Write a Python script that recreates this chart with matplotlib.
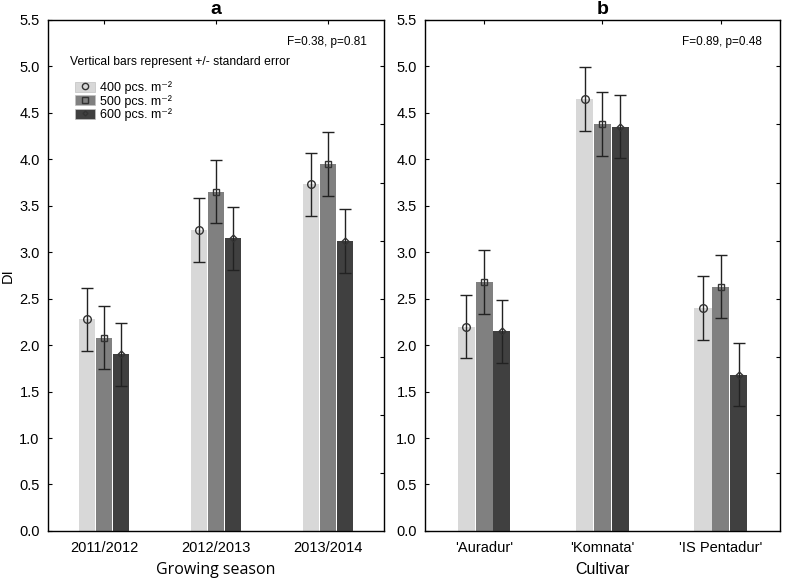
import numpy as np
import matplotlib.pyplot as plt
from matplotlib.lines import Line2D
from matplotlib.patches import Patch
from matplotlib.legend_handler import HandlerTuple

plt.rcParams['font.family'] = ['Liberation Sans', 'DejaVu Sans']

# dados
seasons = ['2011/2012', '2012/2013', '2013/2014']
season_400 = [2.28, 3.24, 3.73]
season_500 = [2.08, 3.65, 3.95]
season_600 = [1.90, 3.15, 3.12]
season_se = [[0.34, 0.34, 0.34], [0.34, 0.34, 0.34], [0.34, 0.34, 0.34]]

cultivars = ["'Auradur'", "'Komnata'", "'IS Pentadur'"]
cult_400 = [2.20, 4.65, 2.40]
cult_500 = [2.68, 4.38, 2.63]
cult_600 = [2.15, 4.35, 1.68]
cult_se = [[0.34, 0.34, 0.34], [0.34, 0.34, 0.34], [0.34, 0.34, 0.34]]

densities = ['400 pcs. m⁻²', '500 pcs. m⁻²', '600 pcs. m⁻²']
colors = ['#d8d8d8', '#808080', '#404040']
markers = ['o', 's', 'D']
msizes = [5.5, 5, 3.5]

fig = plt.figure(figsize=(7.87, 5.79), dpi=100)
ax1 = fig.add_axes([0.061, 0.083, 0.427, 0.8825])
ax2 = fig.add_axes([0.540, 0.083, 0.451, 0.8825])


def draw_panel(ax, cats, series, ses, title, xlabel, ftext, xlabel_font):
    x = np.arange(len(cats))
    w = 0.145
    offs = [-0.15, 0.0, 0.15]
    for vals, se, c, m, ms, off in zip(series, ses, colors, markers, msizes, offs):
        ax.bar(x + off, vals, width=w, color=c, edgecolor='none', zorder=1)
        ax.errorbar(x + off, vals, yerr=se, fmt=m, ms=ms, mfc='none', mec='#333333',
                    mew=1.0, ecolor='#222222', elinewidth=1.0, capsize=4.5, capthick=1.0, zorder=2)
    ax.set_xlim(-0.5, len(cats) - 0.5)
    ax.set_ylim(0, 5.5)
    ax.set_yticks(np.arange(0, 5.51, 0.5))
    ax.set_yticklabels([f'{v:.1f}' for v in np.arange(0, 5.51, 0.5)])
    ax.set_xticks(x)
    ax.set_xticklabels(cats)
    ax.tick_params(axis='x', direction='in', length=3, labelsize=10.5, pad=7,
                   top=True, bottom=False, width=0.8)
    ax.tick_params(axis='y', direction='in', length=3, labelsize=10.5, pad=6, width=0.8)
    for s in ax.spines.values():
        s.set_color('#333333')
        s.set_linewidth(1.0)
    ax.set_title(title, fontsize=14, fontweight='bold', pad=4)
    ax.set_xlabel(xlabel, fontsize=11.5, labelpad=5, family=xlabel_font)
    ax.text(0.95, 0.957, ftext, transform=ax.transAxes, ha='right', va='center', fontsize=8.5)
    # eixo secundario com ticks
    tw = ax.twinx()
    tw.set_ylim(0, 5.5)
    tw.set_yticks(np.arange(0.625, 5.1, 0.625))
    tw.tick_params(direction='in', length=3, labelright=False, width=0.8)


draw_panel(ax1, seasons, [season_400, season_500, season_600], season_se,
           'a', 'Growing season', 'F=0.38, p=0.81', ['Open Sans', 'DejaVu Sans'])
draw_panel(ax2, cultivars, [cult_400, cult_500, cult_600], cult_se,
           'b', 'Cultivar', 'F=0.89, p=0.48', ['Liberation Sans', 'DejaVu Sans'])

ax1.set_ylabel('DI', fontsize=10.5)
ax1.yaxis.set_label_coords(-0.1, 0.5)
ax1.text(0.065, 0.918, 'Vertical bars represent +/- standard error', transform=ax1.transAxes,
         ha='left', va='center', fontsize=8.7)

handles = []
for c, m, ms in zip(colors, markers, msizes):
    handles.append((Patch(facecolor=c, edgecolor='#c0c0c0', linewidth=0.5),
                    Line2D([], [], marker=m, ms=ms - 1, mfc='none', mec='#333333', ls='none')))
ax1.legend(handles, densities, handler_map={tuple: HandlerTuple(ndivide=1, pad=0)},
           loc='upper left', bbox_to_anchor=(0.08, 0.88), frameon=False,
           handlelength=1.6, handleheight=0.9, handletextpad=0.4, labelspacing=0.05,
           borderaxespad=0, borderpad=0,
           prop={'family': ['Liberation Sans', 'DejaVu Sans'], 'size': 9})

fig.savefig('out.png', dpi=100)
